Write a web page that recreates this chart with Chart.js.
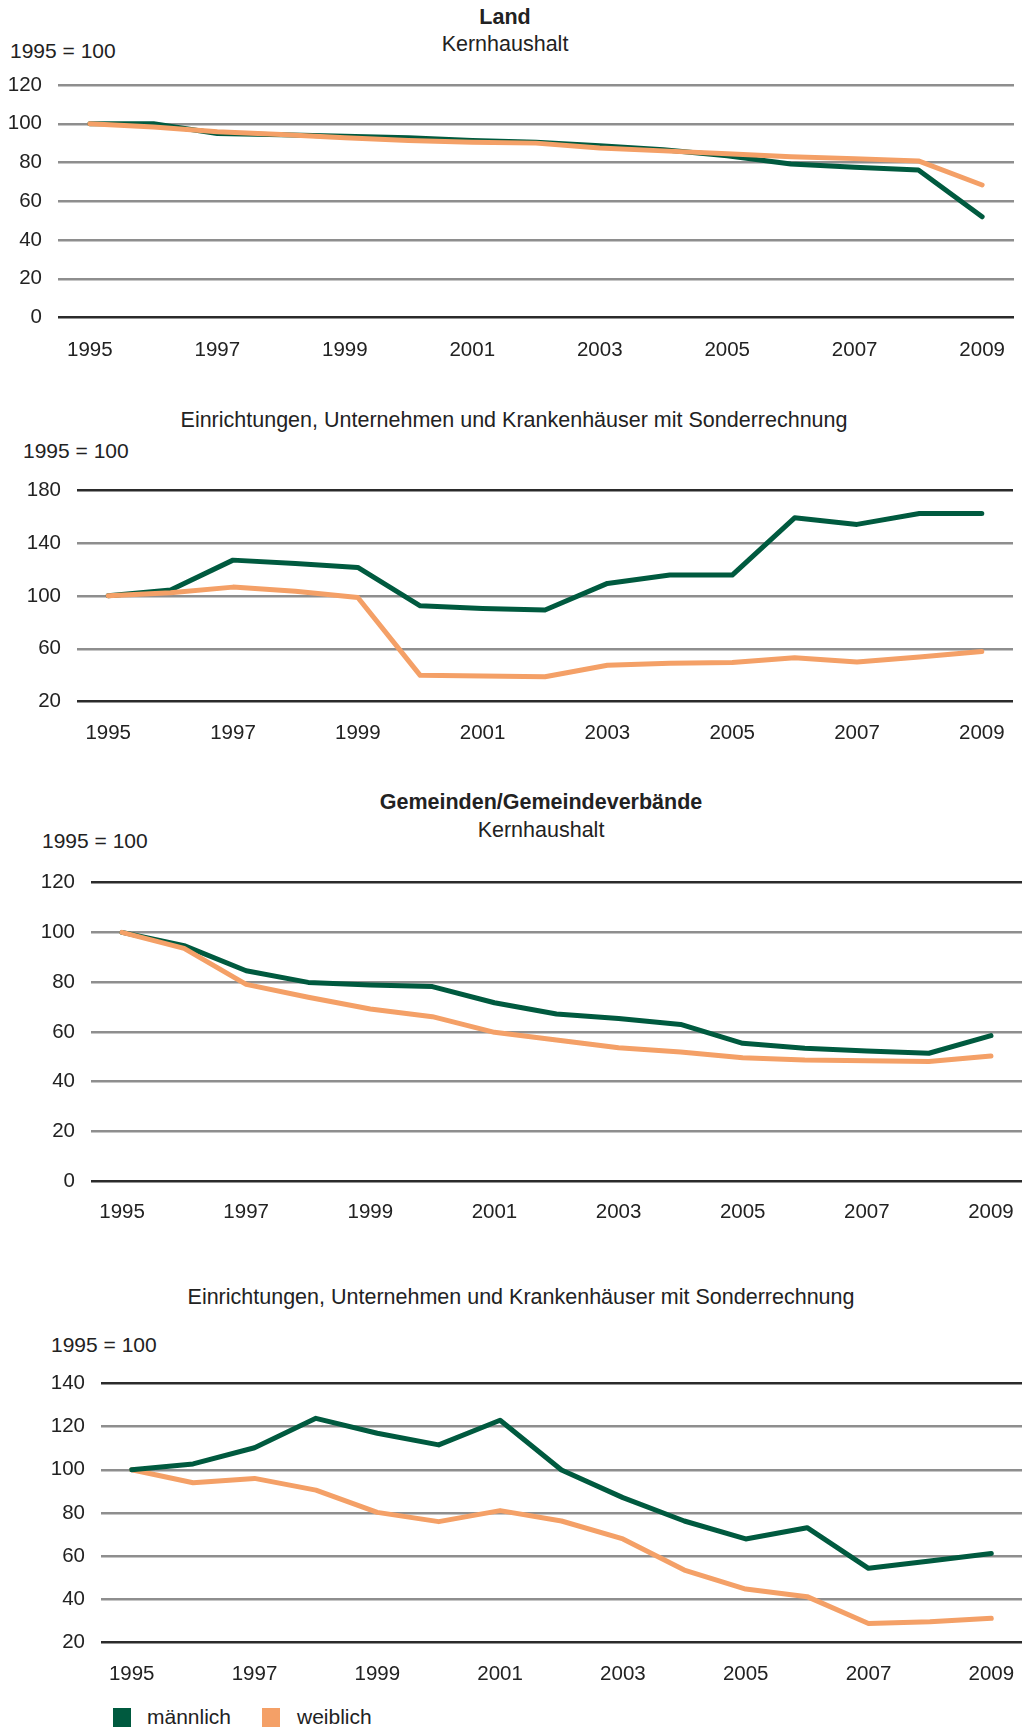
<!DOCTYPE html>
<html lang="de">
<head>
<meta charset="utf-8">
<title>Personal 1995 = 100</title>
<script src="https://cdn.jsdelivr.net/npm/chart.js@4.4.1/dist/chart.umd.min.js"></script>
<style>
  body { margin: 0; background: #fff; font-family: "Liberation Sans", Arial, sans-serif; color: #222; }
  #page { position: relative; width: 1022px; height: 1729px; overflow: hidden; }
  .panel { position: absolute; left: 0; }
  .lbl { position: absolute; font-size: 21px; line-height: 24px; white-space: nowrap; }
  .big { font-size: 21.5px; }
  .mid { transform: translateX(-50%); }
  .bold { font-weight: bold; }
  .sw { position: absolute; width: 18px; height: 19px; }
</style>
</head>
<body>
<div id="page">
  <div class="lbl big mid bold" style="left:505px; top:5px;">Land</div>
  <div class="lbl big mid" style="left:505px; top:32px;">Kernhaushalt</div>
  <div class="lbl" style="left:10px; top:39px;">1995 = 100</div>
  <canvas id="c1" class="panel"></canvas>

  <div class="lbl big mid" style="left:514px; top:408px;">Einrichtungen, Unternehmen und Krankenhäuser mit Sonderrechnung</div>
  <div class="lbl" style="left:23px; top:439px;">1995 = 100</div>
  <canvas id="c2" class="panel"></canvas>

  <div class="lbl big mid bold" style="left:541px; top:790px;">Gemeinden/Gemeindeverbände</div>
  <div class="lbl big mid" style="left:541px; top:818px;">Kernhaushalt</div>
  <div class="lbl" style="left:42px; top:829px;">1995 = 100</div>
  <canvas id="c3" class="panel"></canvas>

  <div class="lbl big mid" style="left:521px; top:1285px;">Einrichtungen, Unternehmen und Krankenhäuser mit Sonderrechnung</div>
  <div class="lbl" style="left:51px; top:1333px;">1995 = 100</div>
  <canvas id="c4" class="panel"></canvas>

  <div class="sw" style="left:113px; top:1708px; background:#005a3f;"></div>
  <div class="lbl" style="left:147px; top:1705px;">männlich</div>
  <div class="sw" style="left:262px; top:1708px; background:#f4a067;"></div>
  <div class="lbl" style="left:297px; top:1705px;">weiblich</div>
</div>
<script>
const years = ['1995', '1996', '1997', '1998', '1999', '2000', '2001', '2002',
  '2003', '2004', '2005', '2006', '2007', '2008', '2009'];

// Land, Kernhaushalt
const landKernTicks = [0, 20, 40, 60, 80, 100, 120];
const landKernMaennlich = [100, 100, 95, 94.3, 93.5, 92.8, 91.3, 90.4, 88.7, 86.6, 83.5, 79.2, 77.5, 76.1, 52];
const landKernWeiblich = [100, 98.3, 95.9, 94.5, 92.8, 91.3, 90.5, 90, 87.5, 86, 84.5, 83, 82, 80.8, 68.4];

// Land, Einrichtungen/Unternehmen/Krankenhäuser
const landSonderTicks = [20, 60, 100, 140, 180];
const landSonderMaennlich = [100, 104.5, 127, 124.5, 121.5, 92.5, 90.5, 89.3, 109.4, 115.7, 115.7, 159, 154, 162.3, 162.3];
const landSonderWeiblich = [100, 102.4, 106.6, 103.4, 98.8, 39.9, 39.4, 38.9, 47.5, 49, 49.7, 53.2, 50, 53.8, 58];

// Gemeinden/Gemeindeverbände, Kernhaushalt
const gemKernTicks = [0, 20, 40, 60, 80, 100, 120];
const gemKernMaennlich = [100, 94.7, 84.6, 79.9, 78.8, 78.2, 71.7, 67.2, 65.4, 63, 55.4, 53.4, 52.3, 51.4, 58.5];
const gemKernWeiblich = [100, 93.6, 79.1, 73.9, 69.2, 66.1, 59.8, 56.7, 53.6, 51.9, 49.6, 48.7, 48.4, 48.1, 50.3];

// Gemeinden/Gemeindeverbände, Einrichtungen/Unternehmen/Krankenhäuser
const gemSonderTicks = [20, 40, 60, 80, 100, 120, 140];
const gemSonderMaennlich = [100, 102.7, 110.2, 123.8, 116.9, 111.5, 122.9, 99.9, 87.1, 76.3, 68, 73.2, 54.4, 57.8, 61.3];
const gemSonderWeiblich = [100, 94, 96, 90.6, 80.3, 76, 81.1, 76.3, 68, 53.6, 44.8, 41.3, 28.9, 29.7, 31.3];

const GREEN = '#005a3f';
const ORANGE = '#f4a067';
const GRID_GRAY = '#8e8e8e';
const GRID_DARK = '#2b2b2b';
const X_AXIS_H = 50;

function makeChart(id, box, tickValues, maleData, femaleData, opts) {
  const canvas = document.getElementById(id);
  canvas.width = 1022;
  canvas.height = box.height;
  canvas.style.top = box.top + 'px';
  const min = tickValues[0];
  const max = tickValues[tickValues.length - 1];

  return new Chart(canvas, {
    type: 'line',
    data: {
      labels: years,
      datasets: [
        {
          label: 'männlich',
          data: maleData,
          borderColor: GREEN,
          order: opts.maleOnTop ? 0 : 1,
        },
        {
          label: 'weiblich',
          data: femaleData,
          borderColor: ORANGE,
          order: opts.maleOnTop ? 1 : 0,
        },
      ],
    },
    options: {
      responsive: false,
      animation: false,
      events: [],
      elements: {
        point: { radius: 0 },
        line: { borderWidth: 5, tension: 0, borderCapStyle: 'round', borderJoinStyle: 'round', fill: false },
      },
      layout: {
        padding: {
          top: box.areaTop - box.top,
          bottom: box.top + box.height - box.areaBottom - X_AXIS_H,
          left: 0,
          right: 1022 - box.right,
        },
      },
      plugins: {
        legend: { display: false },
        tooltip: { enabled: false },
      },
      scales: {
        x: {
          type: 'category',
          offset: true,
          grid: { display: false, drawTicks: false },
          border: { display: false },
          ticks: {
            autoSkip: false,
            maxRotation: 0,
            padding: opts.labelPad,
            color: '#222',
            font: { family: '"Liberation Sans", Arial, sans-serif', size: 20.5 },
            callback: function (value, index) {
              return index % 2 === 0 ? this.getLabelForValue(value) : '';
            },
          },
          afterFit: (scale) => {
            scale.height = X_AXIS_H;
            scale.paddingLeft = 0;
            scale.paddingRight = 0;
          },
        },
        y: {
          min: min,
          max: max,
          afterBuildTicks: (scale) => {
            scale.ticks = tickValues.map((v) => ({ value: v }));
          },
          afterFit: (scale) => { scale.width = box.left; },
          grid: {
            drawTicks: false,
            lineWidth: 2.5,
            color: (ctx) => {
              const v = ctx.tick ? ctx.tick.value : null;
              if (v === min) return GRID_DARK;
              if (v === max && opts.darkTop) return GRID_DARK;
              return GRID_GRAY;
            },
          },
          border: { display: false },
          ticks: {
            padding: 16,
            color: '#222',
            font: { family: '"Liberation Sans", Arial, sans-serif', size: 20.5 },
          },
        },
      },
    },
  });
}

makeChart('c1', { top: 0, height: 380, areaTop: 85, areaBottom: 317.5, left: 58, right: 1014 },
  landKernTicks, landKernMaennlich, landKernWeiblich, { darkTop: false, maleOnTop: false, labelPad: 20.5 });

makeChart('c2', { top: 380, height: 380, areaTop: 490, areaBottom: 701.7, left: 77, right: 1013 },
  landSonderTicks, landSonderMaennlich, landSonderWeiblich, { darkTop: true, maleOnTop: false, labelPad: 19 });

makeChart('c3', { top: 760, height: 480, areaTop: 882.7, areaBottom: 1181, left: 91, right: 1022 },
  gemKernTicks, gemKernMaennlich, gemKernWeiblich, { darkTop: true, maleOnTop: false, labelPad: 19 });

makeChart('c4', { top: 1240, height: 460, areaTop: 1383.3, areaBottom: 1642.7, left: 101, right: 1022 },
  gemSonderTicks, gemSonderMaennlich, gemSonderWeiblich, { darkTop: true, maleOnTop: true, labelPad: 19 });
</script>
</body>
</html>
